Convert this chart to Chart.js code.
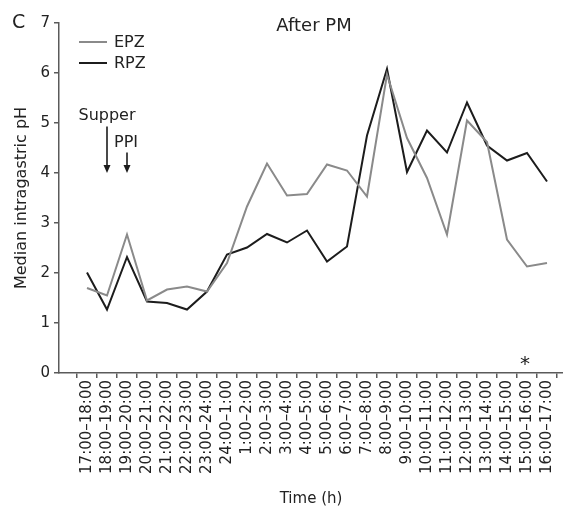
<!DOCTYPE html>
<html><head><meta charset="utf-8">
<script src="https://cdn.jsdelivr.net/npm/chart.js@4"></script>
<style>html,body{margin:0;padding:0;background:#fff}#wrap{width:563px;height:513px}</style>
</head><body><div id="wrap"><canvas id="c" width="563" height="513"></canvas></div>
<script>
const categories = ["17:00–18:00","18:00–19:00","19:00–20:00","20:00–21:00","21:00–22:00","22:00–23:00","23:00–24:00","24:00–1:00","1:00–2:00","2:00–3:00","3:00–4:00","4:00–5:00","5:00–6:00","6:00–7:00","7:00–8:00","8:00–9:00","9:00–10:00","10:00–11:00","11:00–12:00","12:00–13:00","13:00–14:00","14:00–15:00","15:00–16:00","16:00–17:00"];
const epzValues = [1.70,1.55,2.77,1.45,1.67,1.73,1.63,2.20,3.33,4.19,3.55,3.58,4.17,4.05,3.53,5.97,4.70,3.90,2.77,5.05,4.62,2.67,2.13,2.20];
const rpzValues = [2.01,1.27,2.32,1.43,1.40,1.27,1.63,2.37,2.51,2.78,2.61,2.85,2.23,2.53,4.75,6.08,4.02,4.85,4.41,5.41,4.55,4.25,4.40,3.83];
const seriesNames = ["EPZ","RPZ"];
const yTickValues = [0,1,2,3,4,5,6,7];
const chartTitle = "After PM";
const panelLetter = "C";
const yAxisTitle = "Median intragastric pH";
const xAxisTitle = "Time (h)";
// annotation arrows: [label, category index, arrow start value, arrow end value]
const mealArrows = [["Supper",1,4.93,4.0],["PPI",2,4.41,4.0]];
const starCategory = 22;
const starValue = 0.23;

const GRAY = '#8a8a8a', DARK = '#1c1c1c', AX = '#5a5a5a', TXT = '#222';
const FONT = "'DejaVu Sans', Verdana, sans-serif";

const overlay = {
  id: 'overlay',
  afterDraw(chart) {
    const ctx = chart.ctx, xs = chart.scales.x, ys = chart.scales.y;
    ctx.save();
    ctx.fillStyle = TXT;
    ctx.textBaseline = 'alphabetic';
    ctx.font = "19px " + FONT; ctx.textAlign = 'left';
    ctx.fillText(panelLetter, 12, 28);
    ctx.font = "18px " + FONT; ctx.textAlign = 'center';
    ctx.fillText(chartTitle, 314, 31);
    const cols = [GRAY, DARK];
    const ly = [42, 63];
    ctx.font = "16px " + FONT; ctx.textAlign = 'left'; ctx.textBaseline = 'middle';
    seriesNames.forEach((n, i) => {
      ctx.strokeStyle = cols[i]; ctx.lineWidth = 2;
      ctx.beginPath(); ctx.moveTo(79, ly[i]); ctx.lineTo(107, ly[i]); ctx.stroke();
      ctx.fillText(n, 114, ly[i] + 1);
    });
    ctx.textBaseline = 'alphabetic';
    mealArrows.forEach(([lab, ci, v0, v1], k) => {
      const x = xs.getPixelForValue(ci);
      const y0 = ys.getPixelForValue(v0), y1 = ys.getPixelForValue(v1);
      ctx.strokeStyle = DARK; ctx.fillStyle = DARK; ctx.lineWidth = 1.6;
      ctx.beginPath(); ctx.moveTo(x, y0); ctx.lineTo(x, y1 - 6); ctx.stroke();
      ctx.beginPath(); ctx.moveTo(x - 3.5, y1 - 8); ctx.lineTo(x + 3.5, y1 - 8); ctx.lineTo(x, y1); ctx.closePath(); ctx.fill();
      ctx.fillStyle = TXT; ctx.font = "16px " + FONT;
      if (k === 0) { ctx.textAlign = 'center'; ctx.fillText(lab, x, y0 - 7); }
      else { ctx.textAlign = 'left'; ctx.fillText(lab, x - 13, y0 - 6); }
    });
    ctx.font = "20px " + FONT; ctx.textAlign = 'center'; ctx.textBaseline = 'middle';
    ctx.fillStyle = DARK;
    ctx.fillText("*", xs.getPixelForValue(starCategory) - 2, ys.getPixelForValue(starValue) + 3);
    ctx.restore();
  }
};

new Chart(document.getElementById('c'), {
  type: 'line',
  data: {
    datasets: [
      { label: seriesNames[0], data: epzValues.map((v, i) => ({x: i, y: v})), borderColor: GRAY, borderWidth: 2, pointRadius: 0, tension: 0, fill: false },
      { label: seriesNames[1], data: rpzValues.map((v, i) => ({x: i, y: v})), borderColor: DARK, borderWidth: 2, pointRadius: 0, tension: 0, fill: false }
    ]
  },
  options: {
    responsive: false, animation: false, devicePixelRatio: 1,
    layout: { padding: { top: 23, right: 0, left: 0, bottom: 0 } },
    plugins: { legend: { display: false }, tooltip: { enabled: false }, title: { display: false } },
    scales: {
      x: {
        type: 'linear', min: -1.4, max: 23.8,
        afterBuildTicks: s => { s.ticks = categories.map((_, i) => ({value: i - 0.5})).concat([{value: categories.length - 0.5}]); },
        afterFit: s => { s.height = 140; s.paddingLeft = 0; s.paddingRight = 0; },
        ticks: {
          autoSkip: false, maxRotation: 90, minRotation: 90, labelOffset: 10, padding: 2,
          color: TXT, font: { family: FONT, size: 15 },
          callback: (v, i) => categories[i] !== undefined ? categories[i] : ''
        },
        grid: { display: true, drawOnChartArea: false, drawTicks: true, tickLength: 5, color: AX, lineWidth: 1.5 },
        border: { display: true, color: AX, width: 1.5 },
        title: { display: true, text: xAxisTitle, color: TXT, font: { family: FONT, size: 15 }, padding: { top: 4, bottom: 5 } }
      },
      y: {
        min: 0, max: 7,
        afterBuildTicks: s => { s.ticks = yTickValues.map(v => ({value: v})); },
        afterFit: s => { s.width = 59; s.paddingTop = 0; s.paddingBottom = 0; },
        ticks: { color: TXT, font: { family: FONT, size: 15 }, padding: 4 },
        grid: { display: true, drawOnChartArea: false, drawTicks: true, tickLength: 5, color: AX, lineWidth: 1.5 },
        border: { display: true, color: AX, width: 1.5 },
        title: { display: true, text: yAxisTitle, color: TXT, font: { family: FONT, size: 16 }, padding: { top: 12, bottom: 4 } }
      }
    }
  },
  plugins: [overlay]
});
</script></body></html>
